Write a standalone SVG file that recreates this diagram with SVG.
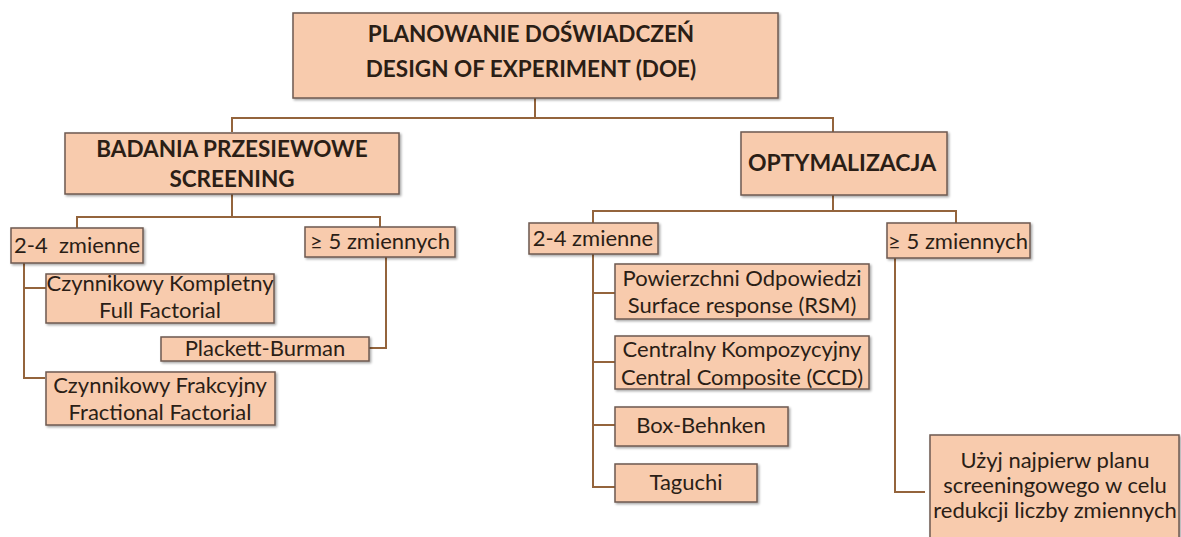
<svg xmlns="http://www.w3.org/2000/svg" width="1181" height="537" viewBox="0 0 1181 537">
  <defs>
    <filter id="shadow" x="-5%" y="-10%" width="110%" height="130%">
      <feDropShadow dx="1.5" dy="1.5" stdDeviation="1" flood-color="#000" flood-opacity="0.35"/>
    </filter>
  </defs>
  <style>
    .box { fill: #F8CBAD; stroke: #6E5A50; stroke-width: 1.5; filter: url(#shadow); }
    .t { font-family: "Lato", "Open Sans", "Liberation Sans", sans-serif; fill: #2B1E16; text-anchor: middle; }
    .h { font-size: 22.5px; font-weight: bold; }
    .r { font-size: 22px; }
    .conn { fill: none; stroke: #94643C; stroke-width: 2; }
  </style>
  <rect width="1181" height="537" fill="#FFFFFF"/>

  <!-- connectors -->
  <g id="connectors" class="conn">
    <path d="M535 98 V118 M232 132 V118 H833 V133"/>
    <path d="M232 194 V217 M77 228 V217 H380 V227"/>
    <path d="M24 263 V378 H45 M24 288 H46"/>
    <path d="M386 257 V348 H369"/>
    <path d="M833 195 V211 M593 223 V211 H956 V223"/>
    <path d="M593 254 V487 H615 M593 293 H615 M593 362 H615 M593 425 H615"/>
    <path d="M895 258 V492 H925"/>
  </g>

  <!-- root -->
  <g id="doe">
    <rect class="box" x="293" y="13" width="485" height="85"/>
    <text class="t h" x="531" y="42">PLANOWANIE DOŚWIADCZEŃ</text>
    <text class="t h" x="531" y="77">DESIGN OF EXPERIMENT (DOE)</text>
  </g>

  <!-- screening branch -->
  <g id="screening">
    <rect class="box" x="65" y="133" width="334" height="61"/>
    <text class="t h" x="232" y="157">BADANIA PRZESIEWOWE</text>
    <text class="t h" x="232" y="187">SCREENING</text>
  </g>
  <g id="scr-2-4">
    <rect class="box" x="11" y="228" width="132" height="35"/>
    <text class="t r" x="77" y="253" xml:space="preserve">2-4  zmienne</text>
  </g>
  <g id="scr-5plus">
    <rect class="box" x="305" y="227" width="150" height="30"/>
    <text class="t r" x="380" y="249">≥ 5 zmiennych</text>
  </g>
  <g id="full-factorial">
    <rect class="box" x="46" y="274" width="228" height="49"/>
    <text class="t r" x="160" y="291">Czynnikowy Kompletny</text>
    <text class="t r" x="160" y="318">Full Factorial</text>
  </g>
  <g id="plackett-burman">
    <rect class="box" x="161" y="337" width="208" height="24"/>
    <text class="t r" x="265" y="356">Plackett-Burman</text>
  </g>
  <g id="fractional-factorial">
    <rect class="box" x="46" y="372" width="229" height="53"/>
    <text class="t r" x="160" y="393">Czynnikowy Frakcyjny</text>
    <text class="t r" x="160" y="420">Fractional Factorial</text>
  </g>

  <!-- optimisation branch -->
  <g id="optymalizacja">
    <rect class="box" x="741" y="132" width="206" height="63"/>
    <text class="t h" x="842" y="171" style="font-size:23px">OPTYMALIZACJA</text>
  </g>
  <g id="opt-2-4">
    <rect class="box" x="529" y="223" width="129" height="31"/>
    <text class="t r" x="593" y="246">2-4 zmienne</text>
  </g>
  <g id="opt-5plus">
    <rect class="box" x="887" y="223" width="143" height="35"/>
    <text class="t r" x="958" y="249">≥ 5 zmiennych</text>
  </g>
  <g id="rsm">
    <rect class="box" x="615" y="264" width="254" height="55"/>
    <text class="t r" x="742" y="286">Powierzchni Odpowiedzi</text>
    <text class="t r" x="742" y="313">Surface response (RSM)</text>
  </g>
  <g id="ccd">
    <rect class="box" x="615" y="336" width="254" height="53"/>
    <text class="t r" x="742" y="357">Centralny Kompozycyjny</text>
    <text class="t r" x="742" y="385">Central Composite (CCD)</text>
  </g>
  <g id="box-behnken">
    <rect class="box" x="615" y="407" width="173" height="39"/>
    <text class="t r" x="701" y="433">Box-Behnken</text>
  </g>
  <g id="taguchi">
    <rect class="box" x="615" y="464" width="142" height="38"/>
    <text class="t r" x="686" y="490">Taguchi</text>
  </g>
  <g id="screen-first">
    <rect class="box" x="930" y="435" width="249" height="106"/>
    <text class="t r" x="1055" y="468">Użyj najpierw planu</text>
    <text class="t r" x="1055" y="493">screeningowego w celu</text>
    <text class="t r" x="1055" y="518">redukcji liczby zmiennych</text>
  </g>
</svg>
